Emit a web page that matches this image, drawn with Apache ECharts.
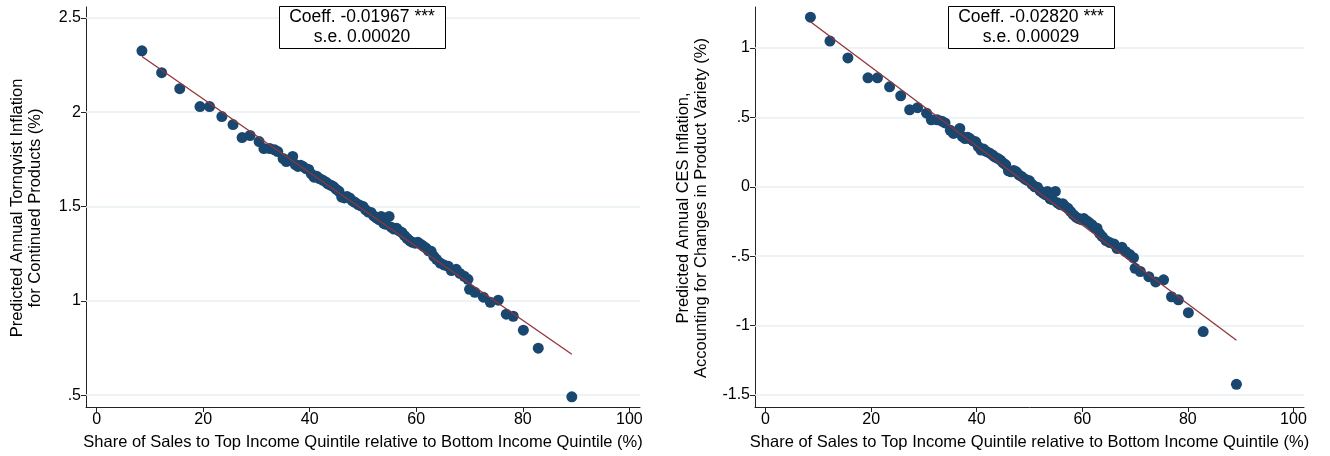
<!DOCTYPE html>
<html>
<head>
<meta charset="utf-8">
<script src="https://cdn.jsdelivr.net/npm/echarts@6/dist/echarts.min.js"></script>
<style>
html,body{margin:0;padding:0;background:#fff;}
#chart{width:1330px;height:456px;}
</style>
</head>
<body>
<div id="chart"></div>
<script>
// Shared x values: share of sales to top vs bottom income quintile (%)
const xShare = [8.5,12.2,15.6,19.4,21.2,23.5,25.6,27.3,28.8,30.5,
31.4,32.5,33.4,34.0,35.0,35.6,36.2,36.8,37.3,37.8,
38.3,38.7,39.3,39.8,40.3,40.8,41.3,41.8,42.4,43.0,
43.4,44.0,44.5,45.0,45.5,46.0,46.5,47.0,47.5,48.0,
48.5,49.1,49.6,50.0,50.5,51.0,51.5,52.0,52.5,53.0,
53.4,53.9,54.3,54.9,55.3,55.8,56.3,56.8,57.3,57.8,
58.3,58.8,59.3,59.8,60.3,60.8,61.3,61.8,62.3,62.8,
63.3,63.8,64.5,65.2,66.0,66.6,67.5,68.2,69.0,69.7,
70.0,71.0,72.6,73.9,75.4,76.9,78.2,80.1,82.9,89.2];
// Left panel: predicted annual Tornqvist inflation (%)
const yTornqvist = [2.325,2.209,2.124,2.029,2.029,1.976,1.934,1.865,1.876,1.844,
1.807,1.807,1.800,1.791,1.754,1.738,1.745,1.765,1.722,1.712,
1.718,1.712,1.700,1.696,1.672,1.655,1.660,1.648,1.640,1.630,
1.620,1.612,1.604,1.590,1.580,1.550,1.545,1.552,1.545,1.530,
1.522,1.510,1.503,1.500,1.482,1.470,1.468,1.450,1.440,1.430,
1.447,1.410,1.405,1.447,1.390,1.380,1.385,1.370,1.362,1.345,
1.330,1.318,1.310,1.305,1.310,1.300,1.290,1.280,1.265,1.262,
1.235,1.220,1.200,1.190,1.183,1.160,1.167,1.145,1.130,1.114,
1.061,1.045,1.019,0.992,1.003,0.929,0.918,0.844,0.749,0.491];
// Right panel: predicted annual CES inflation (%)
const yCES = [1.222,1.050,0.928,0.785,0.785,0.720,0.655,0.555,0.570,0.530,
0.483,0.483,0.473,0.460,0.407,0.384,0.394,0.420,0.361,0.347,
0.356,0.347,0.330,0.324,0.290,0.265,0.272,0.255,0.244,0.229,
0.215,0.204,0.192,0.172,0.158,0.115,0.108,0.118,0.108,0.086,
0.075,0.057,0.047,0.043,0.017,0.000,-0.003,-0.029,-0.043,-0.057,
-0.033,-0.086,-0.093,-0.033,-0.115,-0.129,-0.122,-0.143,-0.155,-0.179,
-0.201,-0.218,-0.229,-0.237,-0.229,-0.244,-0.258,-0.273,-0.294,-0.298,
-0.337,-0.359,-0.387,-0.402,-0.412,-0.445,-0.435,-0.466,-0.488,-0.511,
-0.587,-0.610,-0.647,-0.685,-0.670,-0.792,-0.814,-0.907,-1.043,-1.423];
// Fitted lines (endpoints)
const fitX = [8.5, 89.2];
const fitTornqvist = [2.295, 0.717];
const fitCES = [1.189, -1.105];
// Ticks
const xTicks = [0,20,40,60,80,100];
const yTicksL = [0.5,1,1.5,2,2.5];
const yTickLabelsL = ['.5','1','1.5','2','2.5'];
const yTicksR = [-1.5,-1,-0.5,0,0.5,1];
const yTickLabelsR = ['-1.5','-1','-.5','0','.5','1'];
// Texts
const titleX = 'Share of Sales to Top Income Quintile relative to Bottom Income Quintile (%)';
const titleYL = ['Predicted Annual Tornqvist Inflation','for Continued Products (%)'];
const titleYR = ['Predicted Annual CES Inflation,','Accounting for Changes in Product Variety (%)'];
const boxL = ['Coeff. -0.01967 ***','s.e. 0.00020'];
const boxR = ['Coeff. -0.02820 ***','s.e. 0.00029'];

const FONT = 'Liberation Sans, Arial, sans-serif';
const DOT = '#1a476f';
const FIT = '#90353b';
const GRIDC = '#e8eff2';
const AXC = '#222';

function pairs(xs, ys){ return xs.map((x,i)=>[x, ys[i]]); }
function lbl(ticks, labels){ return function(v){ for(let i=0;i<ticks.length;i++){ if(Math.abs(ticks[i]-v)<1e-9) return labels[i]; } return ''; }; }

function xAxisDef(gi){
  return {
    type:'value', gridIndex:gi, min:-2, max:102,
    axisLine:{show:true, onZero:false, lineStyle:{color:AXC, width:1}},
    axisTick:{show:true, customValues:xTicks, length:5, lineStyle:{color:AXC}},
    axisLabel:{show:true, customValues:xTicks, margin:5, fontFamily:FONT, fontSize:16, color:'#000'},
    splitLine:{show:false},
    name:titleX, nameLocation:'middle', nameGap:27,
    nameTextStyle:{fontFamily:FONT, fontSize:16.5, color:'#000'}
  };
}
function yAxisDef(gi, min, max, ticks, labels){
  return {
    type:'value', gridIndex:gi, min:min, max:max,
    axisLine:{show:true, onZero:false, lineStyle:{color:AXC, width:1}},
    axisTick:{show:true, customValues:ticks, length:5, lineStyle:{color:AXC}},
    axisLabel:{show:true, customValues:ticks, margin:5, fontFamily:FONT, fontSize:16, color:'#000', formatter:lbl(ticks, labels)},
    splitLine:{show:false}
  };
}
function gridSeries(ai, ticks){
  return {
    type:'line', xAxisIndex:ai, yAxisIndex:ai, data:[], z:1, zlevel:0, silent:true,
    markLine:{silent:true, symbol:['none','none'], label:{show:false},
      lineStyle:{color:GRIDC, width:1.5, type:'solid'},
      data: ticks.map(v=>({yAxis:v}))}
  };
}
function vText(x, y, t){
  return {type:'text', x:x, y:y, rotation:Math.PI/2, style:{text:t, font:'16.5px '+FONT, fill:'#000', align:'center', verticalAlign:'middle'}};
}
function hText(x, y, t){
  return {type:'text', x:x, y:y, z:11, zlevel:2, style:{text:t, font:'17.5px '+FONT, fill:'#000', align:'center', verticalAlign:'middle'}};
}

const option = {
  backgroundColor:'#fff',
  animation:false,
  grid:[
    {left:86, top:7, width:554, height:401},
    {left:755, top:7, width:549, height:401}
  ],
  xAxis:[xAxisDef(0), xAxisDef(1)],
  yAxis:[
    yAxisDef(0, 0.437, 2.557, yTicksL, yTickLabelsL),
    yAxisDef(1, -1.586, 1.295, yTicksR, yTickLabelsR)
  ],
  series:[
    gridSeries(0, yTicksL),
    gridSeries(1, yTicksR),
    {type:'scatter', xAxisIndex:0, yAxisIndex:0, zlevel:1, data:pairs(xShare,yTornqvist), symbolSize:11, itemStyle:{color:DOT, opacity:1}, z:3},
    {type:'scatter', xAxisIndex:1, yAxisIndex:1, zlevel:1, data:pairs(xShare,yCES), symbolSize:11, itemStyle:{color:DOT, opacity:1}, z:3},
    {type:'line', xAxisIndex:0, yAxisIndex:0, zlevel:1, data:pairs(fitX,fitTornqvist), symbol:'none', lineStyle:{color:FIT, width:1.3}, z:4},
    {type:'line', xAxisIndex:1, yAxisIndex:1, zlevel:1, data:pairs(fitX,fitCES), symbol:'none', lineStyle:{color:FIT, width:1.3}, z:4}
  ],
  graphic:[
    vText(17, 208, titleYL[0]),
    vText(35, 208, titleYL[1]),
    vText(683, 208, titleYR[0]),
    vText(701, 208, titleYR[1]),
    {type:'rect', z:10, zlevel:2, shape:{x:279.5, y:6.5, width:166, height:42}, style:{fill:'#fff', stroke:'#000', lineWidth:1}},
    hText(362, 17, boxL[0]),
    hText(362, 37, boxL[1]),
    {type:'rect', z:10, zlevel:2, shape:{x:948.5, y:6.5, width:166, height:42}, style:{fill:'#fff', stroke:'#000', lineWidth:1}},
    hText(1031, 17, boxR[0]),
    hText(1031, 37, boxR[1])
  ]
};
const chart = echarts.init(document.getElementById('chart'), null, {renderer:'canvas'});
chart.setOption(option);
</script>
</body>
</html>
